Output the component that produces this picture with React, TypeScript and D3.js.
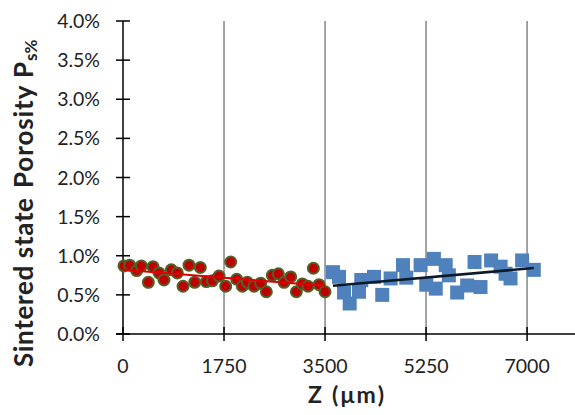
import React from 'react';
import * as d3 from 'd3';

// Sintered state, first half (red circles)
const redZ = [17, 116, 237, 318, 439, 520, 624, 710, 837, 941, 1040, 1144, 1242, 1340, 1444, 1548, 1663, 1779, 1866, 1970, 2068, 2154, 2270, 2385, 2483, 2587, 2691, 2790, 2905, 3003, 3107, 3205, 3298, 3396, 3500];
const redP = [0.87, 0.88, 0.81, 0.87, 0.66, 0.86, 0.78, 0.69, 0.82, 0.78, 0.61, 0.88, 0.66, 0.85, 0.67, 0.68, 0.74, 0.61, 0.92, 0.7, 0.61, 0.66, 0.61, 0.65, 0.54, 0.75, 0.77, 0.66, 0.73, 0.54, 0.64, 0.61, 0.84, 0.63, 0.54];

// second half (blue squares)
const blueZ = [3638, 3742, 3829, 3927, 4088, 4128, 4348, 4491, 4636, 4850, 4907, 5156, 5253, 5386, 5418, 5590, 5645, 5789, 5962, 6090, 6193, 6377, 6541, 6627, 6713, 6914, 7116];
const blueP = [0.79, 0.73, 0.53, 0.39, 0.54, 0.69, 0.73, 0.5, 0.71, 0.88, 0.72, 0.88, 0.63, 0.96, 0.58, 0.88, 0.75, 0.53, 0.62, 0.92, 0.6, 0.94, 0.86, 0.77, 0.71, 0.94, 0.82];

const xTicks = [0, 1750, 3500, 5250, 7000];
const yTicks = [0, 0.5, 1, 1.5, 2, 2.5, 3, 3.5, 4];

const W = 575;
const H = 415;
const font = 'Lato, "Open Sans", sans-serif';

// least squares line, like the Excel trendline
function fit(xs: number[], ys: number[]) {
  const mx = d3.mean(xs) as number;
  const my = d3.mean(ys) as number;
  let num = 0;
  let den = 0;
  xs.forEach((x, i) => {
    num += (x - mx) * (ys[i] - my);
    den += (x - mx) * (x - mx);
  });
  const b = num / den;
  const a = my - b * mx;
  return (x: number) => a + b * x;
}

export default function App() {
  const x = d3.scaleLinear().domain([0, 7830]).range([123, 575]);
  const y = d3.scaleLinear().domain([0, 4]).range([334, 21]);

  const redFit = fit(redZ, redP);
  const blueFit = fit(blueZ, blueP);
  const redExt = d3.extent(redZ) as [number, number];
  const blueExt = d3.extent(blueZ) as [number, number];

  const sq = 14;

  return (
    <svg width={W} height={H} style={{ position: 'absolute', left: 0, top: 0, background: '#fff' }}>
      {/* vertical gridlines */}
      {xTicks.slice(1).map((t) => (
        <line key={'g' + t} x1={x(t)} x2={x(t)} y1={y(4)} y2={y(0)} stroke="#9a9a9a" strokeWidth={1.8} />
      ))}

      {/* axes */}
      <line x1={x(0)} x2={x(0)} y1={y(4)} y2={y(0)} stroke="#000" strokeWidth={1.5} />
      <line x1={116} x2={W} y1={y(0)} y2={y(0)} stroke="#000" strokeWidth={1.5} />
      {yTicks.map((t) => (
        <g key={'y' + t}>
          <line x1={x(0) - 7} x2={x(0) + 7} y1={y(t)} y2={y(t)} stroke="#000" strokeWidth={1.5} />
          <text x={100} y={y(t)} dy="0.36em" textAnchor="end" fontFamily={font} fontSize={19.5} fill="#222">
            {t.toFixed(1) + '%'}
          </text>
        </g>
      ))}
      {xTicks.map((t) => (
        <g key={'x' + t}>
          <line x1={x(t)} x2={x(t)} y1={y(0) - 7} y2={y(0) + 7} stroke="#000" strokeWidth={1.5} />
          <text x={x(t)} y={373} textAnchor="middle" fontFamily={font} fontSize={19.5} fill="#222">
            {t}
          </text>
        </g>
      ))}

      {/* red series */}
      {redZ.map((z, i) => (
        <circle key={'r' + i} cx={x(z)} cy={y(redP[i])} r={5.5} fill="#c00000" stroke="#4f6228" strokeWidth={2} />
      ))}

      {/* blue series */}
      {blueZ.map((z, i) => (
        <rect key={'b' + i} x={x(z) - sq / 2} y={y(blueP[i]) - sq / 2} width={sq} height={sq} fill="#4f81bd" />
      ))}

      {/* trendlines */}
      <line x1={x(0)} x2={x(redExt[1])} y1={y(redFit(0))} y2={y(redFit(redExt[1]))} stroke="#e00000" strokeWidth={2} />
      <line x1={x(blueExt[0])} x2={x(blueExt[1])} y1={y(blueFit(blueExt[0]))} y2={y(blueFit(blueExt[1]))} stroke="#0d1a2b" strokeWidth={2.5} />

      {/* axis titles */}
      <text x={308} y={403} fontFamily={font} fontSize={23} fontWeight="bold" fill="#222" textLength={76} lengthAdjust="spacing">
        Z (μm)
      </text>
      <g transform="translate(33,196) rotate(-90)" fontFamily={font} fontWeight="bold" fill="#222">
        <text x={-171} y={0} fontSize={26} textLength={169} lengthAdjust="spacing">Sintered state</text>
        <text x={8} y={0} fontSize={26} textLength={126} lengthAdjust="spacing">Porosity P</text>
        <text x={135} y={4} fontSize={17}>s%</text>
      </g>
    </svg>
  );
}
